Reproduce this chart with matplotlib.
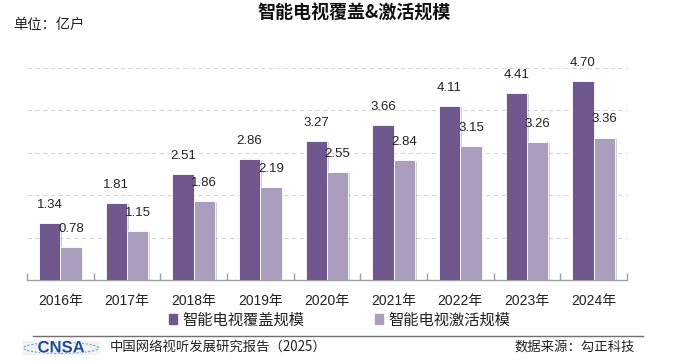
import matplotlib
matplotlib.use("Agg")
import matplotlib.pyplot as plt
import matplotlib.patheffects as pe
from matplotlib.patches import Ellipse, Rectangle
from matplotlib.lines import Line2D
import numpy as np

years = ["2016年", "2017年", "2018年", "2019年", "2020年", "2021年", "2022年", "2023年", "2024年"]
coverage = [1.34, 1.81, 2.51, 2.86, 3.27, 3.66, 4.11, 4.41, 4.70]
activation = [0.78, 1.15, 1.86, 2.19, 2.55, 2.84, 3.15, 3.26, 3.36]
series_names = ["智能电视覆盖规模", "智能电视激活规模"]
title = "智能电视覆盖&激活规模"
unit = "单位：亿户"
footer_left = "中国网络视听发展研究报告（2025）"
footer_right = "数据来源：勾正科技"

C_DARK = "#70588F"
C_LIGHT = "#AA9DBE"
CJK = ["Noto Sans CJK SC", "DejaVu Sans"]
NUM = ["Liberation Sans", "Noto Sans CJK SC", "DejaVu Sans"]

fig = plt.figure(figsize=(6.84, 3.62), dpi=100)
ax = fig.add_axes([27/684, 1-280/362, 600/684, 212/362])

x = np.arange(len(years))
w = 0.32
shadow = [pe.SimplePatchShadow(offset=(1.2, -0.8), shadow_rgbFace="#000000", alpha=0.18), pe.Normal()]
b1 = ax.bar(x - w/2, coverage, w, color=C_DARK, edgecolor="white", linewidth=0.6, zorder=3)
b2 = ax.bar(x + w/2, activation, w, color=C_LIGHT, edgecolor="white", linewidth=0.6, zorder=3)
for b in list(b1) + list(b2):
    b.set_path_effects(shadow)

for xi, v in zip(x, coverage):
    ax.annotate(f"{v:.2f}", (xi - w/2, v), xytext=(0, 13), textcoords="offset points",
                ha="center", va="center", fontsize=9.5, family=NUM, color="#222222",
                annotation_clip=False, zorder=5)
for xi, v in zip(x, activation):
    ax.annotate(f"{v:.2f}", (xi + w/2, v), xytext=(0, 13), textcoords="offset points",
                ha="center", va="center", fontsize=9.5, family=NUM, color="#222222",
                annotation_clip=False, zorder=5)

ax.set_xlim(-0.5, len(years) - 0.5)
ax.set_ylim(0, 5)
for gy in [1, 2, 3, 4, 5]:
    ax.axhline(gy, color="#D6D6D6", lw=0.8, ls=(0, (4, 3)), zorder=1, clip_on=False)

for s in ["top", "right", "left"]:
    ax.spines[s].set_visible(False)
ax.spines["bottom"].set_color("#A0A0A0")
ax.spines["bottom"].set_linewidth(1.0)
ax.set_yticks([])
ax.set_xticks(x)
ax.set_xticklabels(years, fontsize=10, family=NUM, color="#222222")
ax.tick_params(axis="x", which="major", length=0, pad=10)
ax.set_xticks(np.arange(-0.5, len(years)), minor=True)
ax.tick_params(axis="x", which="minor", direction="in", length=5, color="#A0A0A0", width=1)

fig.text(354/684, 1-13/362, title, ha="center", va="center", fontsize=13, fontweight="heavy",
         family=CJK, color="#111111")
fig.text(13/684, 1-25/362, unit, ha="left", va="center", fontsize=10.3, family=CJK, color="#222222")

handles = [Rectangle((0, 0), 1, 1, color=C_DARK), Rectangle((0, 0), 1, 1, color=C_LIGHT)]
leg = fig.legend(handles, series_names, loc="center", bbox_to_anchor=(340/684, 1-320/362),
                 ncol=2, frameon=False, prop={"family": CJK, "size": 11},
                 handlelength=0.5, handleheight=0.6, handletextpad=0.4, columnspacing=4.6)
for t in leg.get_texts():
    t.set_color("#222222")

fig.add_artist(Line2D([33/684, 643/684], [1-336/362, 1-336/362], color="#707070", lw=1.0))

fig.add_artist(Rectangle((23/684, 1-355/362), 77/684, 14/362, transform=fig.transFigure,
                         facecolor="#F2F2F2", edgecolor="none"))
ell = Ellipse((61/684, 1-348/362), 75/684, 11/362, transform=fig.transFigure,
              facecolor="none", edgecolor="#6FA0DA", lw=0.8, ls=(0, (2, 1.5)))
fig.add_artist(ell)
fig.text(61/684, 1-348/362, "CNSA", ha="center", va="center", fontsize=12, fontweight="bold",
         family=["Liberation Sans", "DejaVu Sans"], color="#1C4C9C",
         path_effects=[pe.withStroke(linewidth=1.2, foreground="white")])
fig.text(110/684, 1-347/362, footer_left, ha="left", va="center", fontsize=9.6, family=CJK, color="#222222")
fig.text(635/684, 1-347/362, footer_right, ha="right", va="center", fontsize=9.6, family=CJK, color="#222222")

fig.savefig("out.png", dpi=100)
